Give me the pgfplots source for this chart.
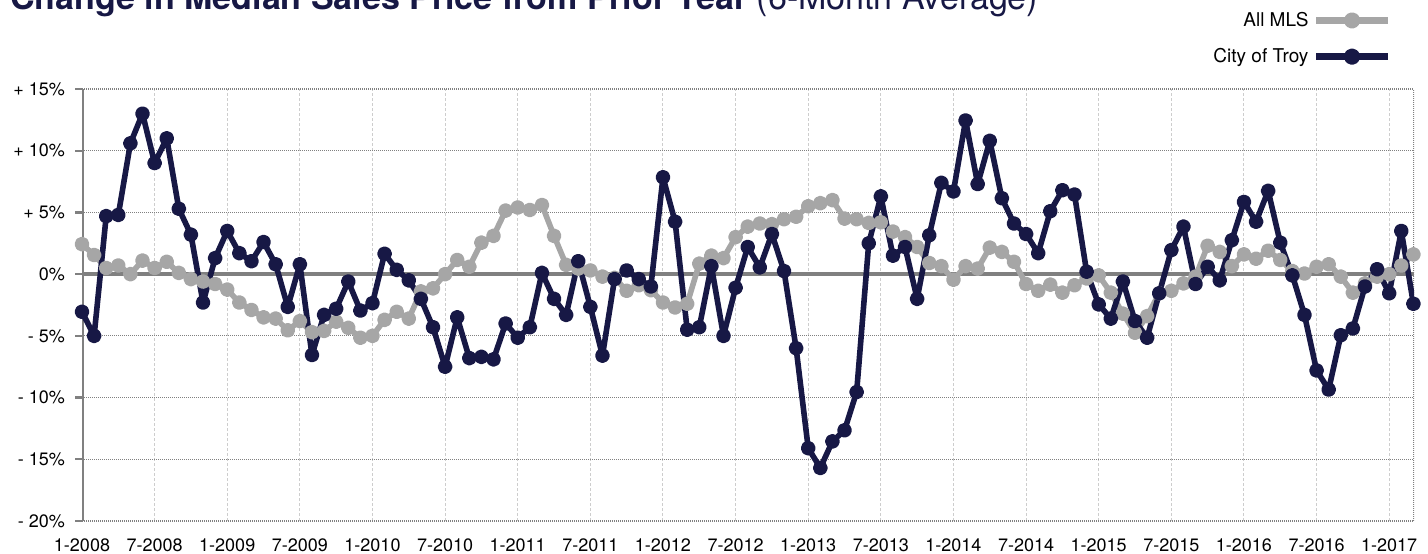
\documentclass[border=0pt]{standalone}
\usepackage{fontspec}
\setmainfont{TeX Gyre Heros}
\usepackage{pgfplots}
\usepackage{pgfplotstable}
\pgfplotsset{compat=1.18}
\definecolor{navy}{RGB}{23,24,69}
\definecolor{mlsgray}{RGB}{166,166,166}
\definecolor{axgray}{RGB}{128,128,128}
\definecolor{vgrid}{RGB}{205,205,205}

\pgfplotstableread{
m mls troy
0 2.43 -3.05
1 1.55 -5.0
2 0.5 4.7
3 0.7 4.8
4 0.0 10.6
5 1.1 13.0
6 0.5 9.0
7 1.0 11.0
8 0.1 5.3
9 -0.4 3.2
10 -0.6 -2.3
11 -0.8 1.3
12 -1.25 3.5
13 -2.3 1.7
14 -2.9 1.05
15 -3.5 2.6
16 -3.6 0.8
17 -4.55 -2.65
18 -3.8 0.8
19 -4.7 -6.55
20 -4.6 -3.3
21 -3.85 -2.8
22 -4.35 -0.6
23 -5.15 -2.95
24 -5.0 -2.35
25 -3.7 1.65
26 -3.05 0.35
27 -3.6 -0.5
28 -1.4 -2.0
29 -1.15 -4.3
30 0.0 -7.5
31 1.15 -3.5
32 0.6 -6.8
33 2.55 -6.7
34 3.1 -6.9
35 5.15 -4.0
36 5.4 -5.15
37 5.2 -4.3
38 5.6 0.1
39 3.1 -2.0
40 0.75 -3.3
41 0.45 1.05
42 0.3 -2.65
43 -0.2 -6.6
44 -0.3 -0.4
45 -1.35 0.3
46 -0.9 -0.4
47 -1.3 -1.0
48 -2.3 7.85
49 -2.7 4.25
50 -2.4 -4.5
51 0.85 -4.3
52 1.5 0.65
53 1.3 -5.0
54 3.0 -1.1
55 3.85 2.2
56 4.1 0.55
57 4.05 3.25
58 4.45 0.25
59 4.65 -6.0
60 5.5 -14.1
61 5.75 -15.7
62 6.0 -13.55
63 4.5 -12.65
64 4.45 -9.55
65 4.15 2.5
66 4.2 6.3
67 3.45 1.5
68 3.0 2.2
69 2.2 -2.0
70 0.9 3.15
71 0.65 7.4
72 -0.45 6.7
73 0.65 12.45
74 0.45 7.3
75 2.15 10.8
76 1.8 6.15
77 1.0 4.1
78 -0.8 3.25
79 -1.35 1.7
80 -0.85 5.1
81 -1.5 6.8
82 -0.9 6.45
83 -0.35 0.2
84 -0.1 -2.45
85 -1.5 -3.6
86 -3.2 -0.6
87 -4.75 -3.8
88 -3.4 -5.15
89 -1.55 -1.55
90 -1.35 1.95
91 -0.75 3.85
92 -0.2 -0.8
93 2.3 0.6
94 1.8 -0.5
95 0.65 2.75
96 1.6 5.85
97 1.25 4.25
98 1.9 6.75
99 1.15 2.55
100 0.25 -0.1
101 0.05 -3.3
102 0.6 -7.8
103 0.8 -9.35
104 -0.2 -4.95
105 -1.5 -4.4
106 -0.75 -1.0
107 -0.2 0.4
108 0.0 -1.55
109 0.7 3.5
110 1.6 -2.4
}\datatable

\begin{document}
\begin{tikzpicture}
\useasboundingbox (0,0) rectangle (714pt,276.5pt);
\node[anchor=base west, text=navy, inner sep=0pt] at (5pt,271.5pt)
  {\fontsize{17}{20}\selectfont\bfseries Change in Median Sales Price from Prior Year \mdseries(6-Month Average)};
\begin{axis}[
  at={(41pt,16pt)}, anchor=south west,
  scale only axis, width=666pt, height=216pt,
  xmin=0, xmax=110.05, ymin=-20, ymax=15,
  axis line style={draw=none},
  xtick={0,6,...,108},
  xticklabels={1-2008,7-2008,1-2009,7-2009,1-2010,7-2010,1-2011,7-2011,1-2012,7-2012,1-2013,7-2013,1-2014,7-2014,1-2015,7-2015,1-2016,7-2016,1-2017},
  ytick={-20,-15,...,15},
  yticklabels={- 20\%,- 15\%,- 10\%,- 5\%,0\%,+ 5\%,+ 10\%,+ 15\%},
  tick label style={font=\fontsize{9}{11}\selectfont, text=black},
  xticklabel style={yshift=-2pt},
  yticklabel style={xshift=-1.5pt},
  xtick style={draw=none},
  ytick style={axgray, line width=1.2pt},
  ytick pos=left,
  tick align=outside,
  major tick length=3.5pt,
  xmajorgrids, ymajorgrids,
  x grid style={vgrid, dash pattern=on 1.5pt off 1pt, line width=0.5pt},
  y grid style={axgray, dash pattern=on 0.5pt off 0.5pt, line width=0.6pt},
  legend plot pos=right,
  legend cell align=right,
  legend style={at={(0.988,1.198)}, anchor=north east, draw=none, fill=none,
    font=\fontsize{9.5}{11}\selectfont, row sep=5.5pt},
  legend image code/.code={\draw[mark repeat=2,mark phase=2,#1,line width=3.6pt] plot coordinates {(0pt,0pt) (18pt,0pt) (36pt,0pt)};},
]
\draw[axgray, dash pattern=on 0.5pt off 0.5pt, line width=0.6pt] (axis cs:110.05,-20) -- (axis cs:110.05,15);
\draw[axgray, line width=1.5pt] (axis cs:0,-20) -- (axis cs:0,15);
\draw[axgray, line width=2pt] (axis cs:0,0) -- (axis cs:110.05,0);
\addplot[mlsgray, line width=2.8pt, line join=round, mark=*, mark size=2.3pt, mark options={solid}] table[x=m,y=mls]{\datatable};
\addlegendentry{All MLS}
\addplot[navy, line width=2.8pt, line join=round, mark=*, mark size=2.3pt, mark options={solid}] table[x=m,y=troy]{\datatable};
\addlegendentry{City of Troy}
\end{axis}
\end{tikzpicture}
\end{document}
